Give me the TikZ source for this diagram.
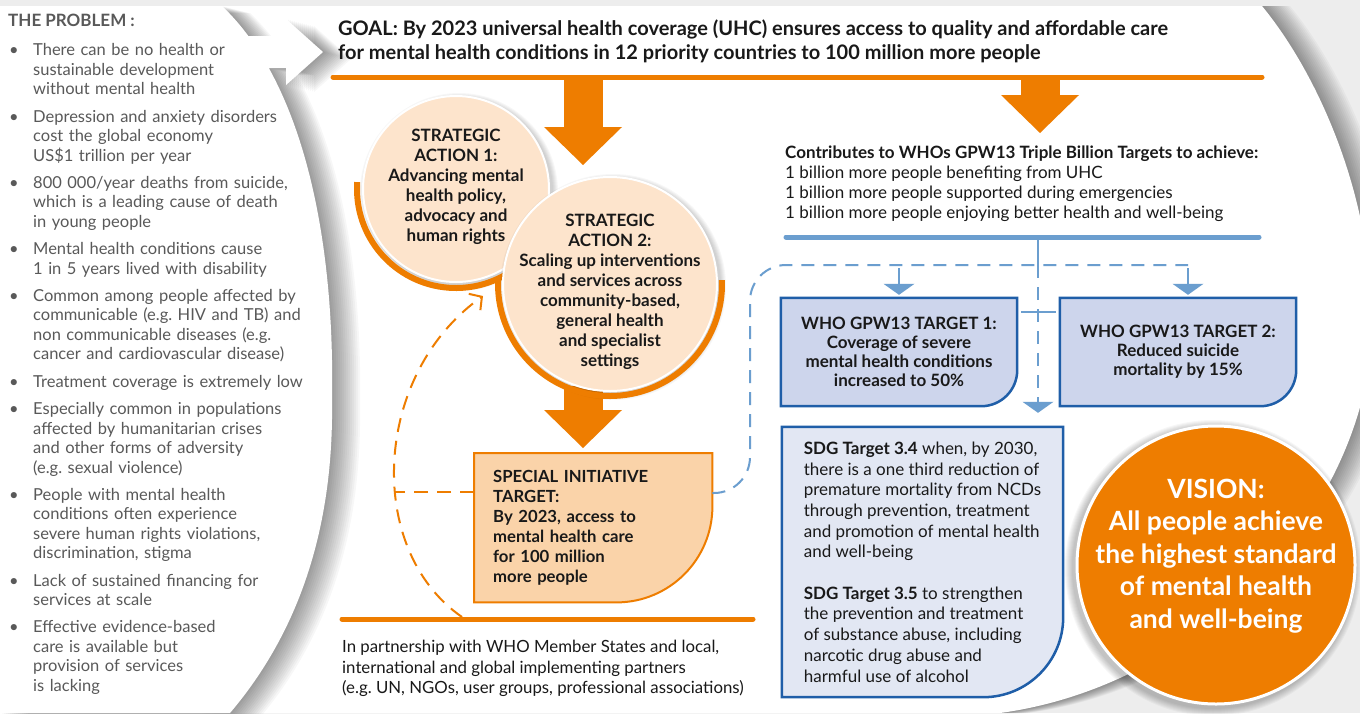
\documentclass[tikz,border=0pt]{standalone}
\usepackage{fontspec}
\setmainfont{Lato}
\usepackage{enumitem}
\usetikzlibrary{arrows.meta}

\definecolor{whoorange}{HTML}{EE7D00}
\definecolor{peach}{HTML}{FDE4CC}
\definecolor{sipeach}{HTML}{FAD3A9}
\definecolor{lineblue}{HTML}{6B9ECF}
\definecolor{boxblue}{HTML}{1F5EA8}
\definecolor{gpwfill}{HTML}{CDD5EC}
\definecolor{sdgfill}{HTML}{E2E7F3}
\definecolor{probgray}{HTML}{595959}
\definecolor{bggray}{HTML}{EDEDED}

\pgfdeclarelayer{panel}
\pgfdeclarelayer{shapes}
\pgfsetlayers{panel,shapes,main}

\tikzset{
    probtext/.style={anchor=north west, inner sep=0pt, text=probgray, text width=330pt, align=left, font=\fontsize{16.5}{19.5}\selectfont},
    headtext/.style={anchor=north west, inner sep=0pt, align=left, text=black!90, font=\bfseries\fontsize{20}{24}\selectfont},
    bodytext/.style={anchor=north west, inner sep=0pt, align=left, text=black!90, font=\fontsize{16.8}{20.6}\selectfont},
    satext/.style={inner sep=0pt, align=center, text=black!90, font=\bfseries\fontsize{17}{20}\selectfont},
    sacircle/.style={circle, fill=peach, draw=white, line width=2pt, inner sep=0pt},
    saring/.style={draw=whoorange, line width=6pt},
    sinode/.style={anchor=north west, minimum width=238pt, minimum height=149pt, text width=200pt, align=left, inner sep=0pt, text=black!90, font=\bfseries\fontsize{16.7}{20}\selectfont},
    sibox/.style={draw=whoorange, line width=2pt, fill=sipeach},
    gpwnode/.style={minimum width=236pt, minimum height=108pt, align=center, inner sep=0pt, text=black!90, font=\bfseries\fontsize{17}{19}\selectfont},
    gpwbox/.style={draw=boxblue, line width=2.5pt, fill=gpwfill},
    sdgnode/.style={minimum width=281pt, minimum height=270pt, align=left, inner sep=0pt, text=black!90, font=\fontsize{17}{20.7}\selectfont},
    sdgbox/.style={draw=boxblue, line width=2.5pt, fill=sdgfill},
    bigarrow/.style={draw=whoorange, line width=39pt, -{Triangle[length=38pt, width=78pt, line width=0pt]}},
    hline/.style={line width=5pt, line cap=round},
    smallarrow/.style={draw=lineblue, line width=2.5pt, -{Triangle[length=11pt, width=31pt, line width=0pt]}},
    bluedash/.style={draw=lineblue, line width=2pt, dash pattern=on 13pt off 9pt},
    orangedash/.style={draw=whoorange, line width=2pt, dash pattern=on 14pt off 9pt},
    vision/.style={circle, fill=whoorange, draw=white, line width=3pt, minimum size=278pt, inner sep=0pt},
    visiontext/.style={align=center, inner sep=0pt, text=white, font=\bfseries\fontsize{26.5}{32.5}\selectfont}
}

\newcommand{\leftpanelpath}{(0,6) -- (222,6) .. controls (300,80) and (335,230) .. (332,400) .. controls (334,540) and (292,640) .. (230,713) -- (0,713) -- cycle (240,36) -- (286,36) -- (286,19) -- (323,52) -- (286,85) -- (286,68) -- (240,68) -- cycle}
\newcommand{\mainpanelpath}{(200,6) -- (1262,6) .. controls (1335,95) and (1395,260) .. (1362,400) .. controls (1320,560) and (1170,690) .. (1000,713) -- (200,713) -- cycle}
\newcommand{\cutcorner}[3]{%
    \begin{pgfonlayer}{shapes}
        \draw[#1] (#2.north west) -- (#2.north east) -- ([yshift=#3]#2.south east) arc[start angle=0, end angle=-90, radius=#3] -- (#2.south west) -- cycle;
    \end{pgfonlayer}}

\begin{document}
\begin{tikzpicture}[x=1pt, y=-1pt]
    \useasboundingbox (0,0) rectangle (1360,713);
    % background panels
    \begin{pgfonlayer}{panel}
        \fill[bggray] (0,0) rectangle (1360,713);
        \foreach \s in {1,...,14}
            \fill[black, opacity=0.03, shift={(2*\s,0)}] \mainpanelpath;
        \fill[white] \mainpanelpath;
        \foreach \s in {1,...,14}
            \fill[black, opacity=0.03, shift={(2*\s,0.5*\s)}] \leftpanelpath;
        \fill[white] \leftpanelpath;
    \end{pgfonlayer}

    % the problem
    \node[font=\bfseries\fontsize{17}{20}\selectfont, text=probgray, anchor=west, inner sep=0pt] (probtitle) at (8,20) {THE PROBLEM :};
    \node[probtext] (problist) at (9,36) {%
        \begin{itemize}[label=\textbullet, labelindent=0pt, labelwidth=10pt, labelsep=14pt, leftmargin=!, align=left, itemsep=7.8pt, parsep=0pt, topsep=0pt, partopsep=0pt]
            \item There can be no health or\\sustainable development\\without mental health
            \item Depression and anxiety disorders\\cost the global economy\\US\$1 trillion per year
            \item 800 000/year deaths from suicide,\\which is a leading cause of death\\in young people
            \item Mental health conditions cause\\1 in 5 years lived with disability
            \item Common among people affected by\\communicable (e.g.\ HIV and TB) and\\non communicable diseases (e.g.\\cancer and cardiovascular disease)
            \item Treatment coverage is extremely low
            \item Especially common in populations\\affected by humanitarian crises\\and other forms of adversity\\(e.g.\ sexual violence)
            \item People with mental health\\conditions often experience\\severe human rights violations,\\discrimination, stigma
            \item Lack of sustained financing for\\services at scale
            \item Effective evidence-based\\care is available but\\provision of services\\is lacking
        \end{itemize}};

    % goal
    \node[headtext] (goal) at (338,20) {GOAL: By 2023 universal health coverage (UHC) ensures access to quality and affordable care\\for mental health conditions in 12 priority countries to 100 million more people};
    \coordinate (gl1) at (333,77);
    \coordinate (gl2) at (1262,77);
    \draw[hline, whoorange] (gl1) -- (gl2);

    \coordinate (a1s) at (583,79);
    \coordinate (a1e) at (583,165);
    \coordinate (a2s) at (1040,79);
    \coordinate (a2e) at (1040,133);
    \draw[bigarrow] (a1s) -- (a1e);
    \draw[bigarrow] (a2s) -- (a2e);

    % strategic actions
    \coordinate (c1) at (456,189);
    \coordinate (c2) at (610,284);
    \foreach \s in {1,...,6}
        \fill[black, opacity=0.03] ([shift={(3,3)}]c1) circle[radius={(93+\s)*1pt}];
    \draw[saring] ([shift={(176:99pt)}]c1) arc[start angle=176, end angle=300, radius=99pt];
    \node[sacircle, minimum size=186pt] (sa1) at (c1) {};
    \node[satext] (sa1text) at (456,187) {STRATEGIC\\ACTION 1:\\Advancing mental\\health policy,\\advocacy and\\human rights};

    \coordinate (a3s) at (583,386);
    \coordinate (a3e) at (583,448);
    \draw[bigarrow] (a3s) -- (a3e);
    \foreach \s in {1,...,6}
        \fill[black, opacity=0.03] ([shift={(3,3)}]c2) circle[radius={(107+\s)*1pt}];
    \draw[saring] ([shift={(2:112pt)}]c2) arc[start angle=2, end angle=-182, radius=112pt];
    \node[sacircle, minimum size=214pt] (sa2) at (c2) {};
    \node[satext] (sa2text) at (610,292) {STRATEGIC\\ACTION 2:\\Scaling up interventions\\and services across\\community-based,\\general health\\and specialist\\settings};

    % special initiative
    \node[sinode] (si) at (474,453) {SPECIAL INITIATIVE\\TARGET:\\By 2023, access to\\mental health care\\for 100 million\\more people};
    \cutcorner{sibox}{si}{96pt}

    \coordinate (pl1) at (342,619);
    \coordinate (pl2) at (753,619);
    \draw[hline, whoorange] (pl1) -- (pl2);
    \node[bodytext] (partner) at (342,640) {In partnership with WHO Member States and local,\\international and global implementing partners\\(e.g.\ UN, NGOs, user groups, professional associations)};

    \coordinate (loopstart) at (462,617);
    \coordinate (looptip) at (483,296);
    \draw[orangedash, -{Straight Barb[length=9pt, width=20pt]}] (loopstart) .. controls (365,550) and (372,375) .. (looptip);
    \draw[orangedash] ([yshift=-39pt]si.north west) -- ++(-80,0);

    % triple billion
    \node[bodytext, font=\fontsize{17}{20}\selectfont] (billion) at (785,146) {\textbf{Contributes to WHOs GPW13 Triple Billion Targets to achieve:}\\1 billion more people benefiting from UHC\\1 billion more people supported during emergencies\\1 billion more people enjoying better health and well-being};
    \coordinate (bl1) at (786,237);
    \coordinate (bl2) at (1259,237);
    \draw[hline, lineblue] (bl1) -- (bl2);

    % targets
    \node[gpwnode] (gpw1) at (899,352) {WHO GPW13 TARGET 1:\\Coverage of severe\\mental health conditions\\increased to 50\%};
    \node[gpwnode] (gpw2) at (1178,352) {WHO GPW13 TARGET 2:\\Reduced suicide\\mortality by 15\%};
    \cutcorner{gpwbox}{gpw1}{36pt}
    \cutcorner{gpwbox}{gpw2}{36pt}
    \node[sdgnode] (sdg) at (922.5,562) {\textbf{SDG Target 3.4} when, by 2030,\\there is a one third reduction of\\premature mortality from NCDs\\through prevention, treatment\\and promotion of mental health\\and well-being\\[20.7pt]\textbf{SDG Target 3.5} to strengthen\\the prevention and treatment\\of substance abuse, including\\narcotic drug abuse and\\harmful use of alcohol};
    \cutcorner{sdgbox}{sdg}{80pt}

    \coordinate (hub) at (1038,265);
    \coordinate (bend) at (750,265);
    \draw[lineblue, line width=2.5pt] (hub |- bl1) -- (hub);
    \draw[bluedash, -{Triangle[length=11pt, width=31pt, line width=0pt]}, shorten >=14pt] (hub) -- (hub |- sdg.north);
    \draw[lineblue, line width=2pt] ([shift={(4pt,-14pt)}]gpw1.north east) -- ++(35,0);
    \draw[bluedash, rounded corners=36pt] ([yshift=-40pt]si.north east) -| (bend) -- ([xshift=10pt]gpw2.north |- hub);
    \draw[smallarrow, shorten >=3pt] ([yshift=-3pt]gpw1.north |- hub) -- (gpw1.north);
    \draw[smallarrow, shorten >=3pt] ([shift={(10pt,-3pt)}]gpw2.north |- hub) -- ([xshift=10pt]gpw2.north);

    % vision
    \coordinate (cv) at (1216,565);
    \foreach \s in {1,...,8}
        \fill[black, opacity=0.03] ([shift={(-3,3)}]cv) circle[radius={(140+\s)*1pt}];
    \node[vision] (vis) at (cv) {};
    \node[visiontext] (vistext) at (1216,556) {VISION:\\All people achieve\\the highest standard\\of mental health\\and well-being};
\end{tikzpicture}
\end{document}
